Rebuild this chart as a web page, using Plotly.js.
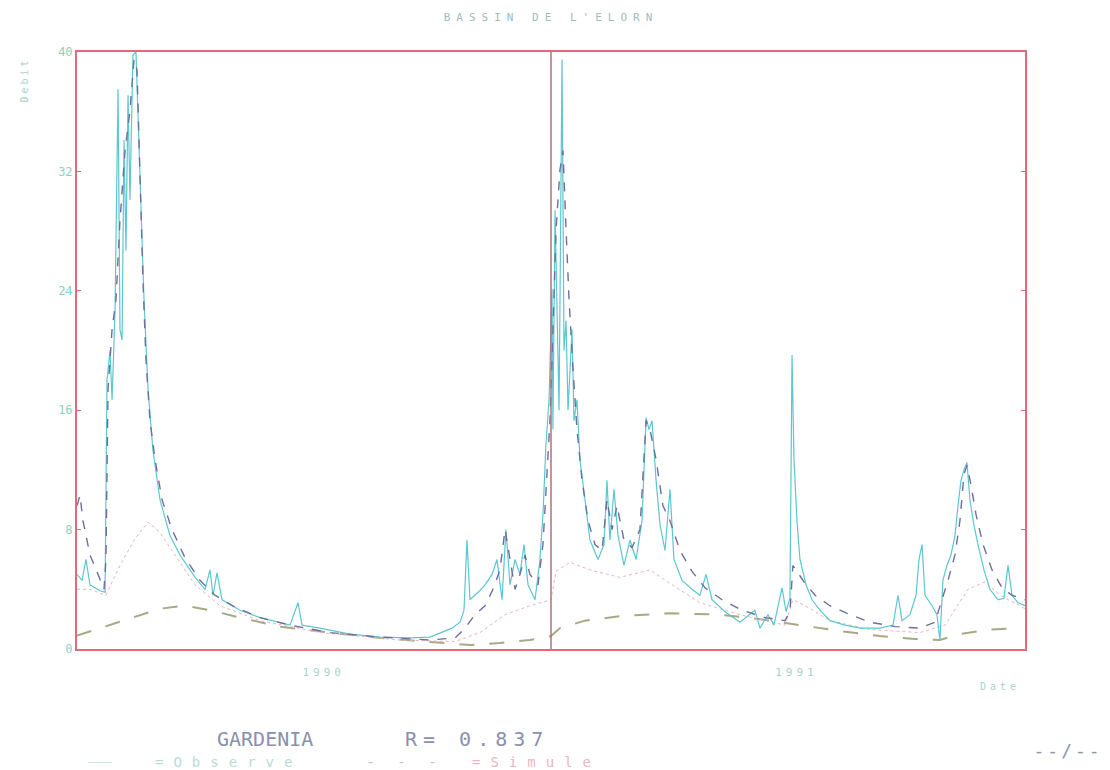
<!DOCTYPE html>
<html>
<head>
<meta charset="utf-8">
<script src="https://cdn.plot.ly/plotly-3.0.1.min.js"></script>
<style>
  html, body { margin: 0; padding: 0; background: #ffffff; overflow: hidden; }
  #chart { width: 1110px; height: 770px; }
</style>
</head>
<body>
<div id="chart"></div>
<script>
// Débits journaliers du bassin de l'Elorn sur deux années hydrologiques.
// Abscisse : jours depuis le début de la période (0 à 730), ordonnée : débit.

// Débit observé
const obsDays = [0, 3.9, 6.9, 10, 17.7, 21.6, 23.1, 25.4, 27, 29.3, 31.6, 33.1, 34.7, 36.2, 37.7, 39.3, 40.8, 43.1, 45.4, 47, 49.3, 51.6, 54.7, 58.5, 63.9, 71.6, 79.3, 90.9, 98.6, 102.4, 104.7, 107.8, 111.7, 125.5, 140.9, 164, 170.2, 173.3, 187.1, 210.2, 233.3, 256.4, 271.8, 279.5, 288.8, 294.9, 298, 300.3, 302.6, 308.8, 314.2, 319.6, 323.4, 327.3, 330.3, 333.4, 337.3, 341.1, 344.2, 347.3, 352.7, 356.5, 358.8, 361.1, 363.5,
  365.8, 366.5, 368.1, 369.6, 371.2, 373.5, 375, 376.6, 378.1, 381.2, 382.7, 385, 387.3, 391.2, 395, 401.2, 405.8, 408.1, 410.4, 413.5, 416.6, 421.2, 425.8, 430.5, 435.1, 438.2, 440.5, 442.8, 445.9, 449, 452.8, 456.6, 459.7, 465.9, 473.6, 479.7, 484.4, 489, 499, 510.5, 522, 525.9, 532.1, 536.7, 539.8, 542.9, 546, 549, 550.6, 552.1, 554.4, 556.7, 561.4, 566, 572.1, 579.8, 591.4, 602.9, 618.3, 628.4, 632.2, 635.3, 641.4, 646.1, 648.4, 650.7, 653, 658.4, 662.2, 664.5, 666.8, 669.9, 673, 676.1, 678.4, 680.7, 683, 685.3, 687.6, 690.7, 693.8, 698.4, 703, 709.2, 713.8, 716.9, 720, 724.6, 730];
const obsFlow = [5.0, 4.6, 6.0, 4.3, 3.9, 3.8, 18.0, 20.0, 16.7, 22.7, 37.5, 21.4, 20.7, 34.1, 26.7, 37.1, 30.1, 39.8, 40, 35.4, 28.7, 23.4, 17.4, 13.3, 10.0, 7.6, 6.3, 4.8, 4.0, 5.3, 3.6, 5.1, 3.3, 2.6, 2.1, 1.6, 3.1, 1.6, 1.4, 1.0, 0.8, 0.74, 0.8, 1.07, 1.4, 1.8, 2.6, 7.3, 3.3, 3.8, 4.3, 5.0, 6.0, 3.3, 8.0, 4.3, 6.0, 5.0, 7.0, 4.3, 3.3, 6.0, 9.0, 13.7, 16.7,
  24.1, 14.7, 29.4, 22.0, 16.0, 39.5, 20.0, 22.0, 16.0, 21.4, 15.3, 16.7, 12.7, 10.0, 7.3, 6.0, 7.0, 11.3, 7.3, 10.7, 7.6, 5.6, 7.3, 6.0, 8.6, 15.5, 14.7, 15.3, 11.3, 8.3, 6.6, 10.7, 6.0, 4.6, 4.0, 3.6, 5.0, 3.3, 2.5, 1.8, 2.6, 1.4, 2.3, 1.6, 2.9, 4.1, 2.5, 3.4, 19.7, 12.7, 8.6, 6.0, 4.3, 3.3, 2.6, 1.9, 1.6, 1.4, 1.4, 1.6, 3.6, 1.9, 2.3, 3.6, 6.0, 7.0, 3.6, 2.9, 2.3, 0.6, 4.6, 5.6, 6.3, 7.6, 9.6, 11.3, 12.0, 12.5, 10.0, 8.3, 7.0, 5.3, 4.0, 3.3, 3.4, 5.6, 3.6, 3.1, 2.9];

// Débit simulé par le modèle
const simDays = [0, 2.3, 4.6, 10, 16.2, 20.8, 22.3, 23.9, 27, 30, 33.1, 37, 40.8, 43.9, 46.2, 48.5, 50.8, 53.1, 56.2, 60.1, 65.5, 73.2, 83.2, 94.7, 106.3, 121.7, 140.9, 164, 194.8, 233.3, 271.8, 291.1, 298.8, 306.5, 314.2, 320.3, 325.7, 329.6, 333.4, 337.3, 341.1, 345, 348.8, 355, 358.8, 361.9, 364.2,
  366.5, 368.9, 371.9, 374.2, 376.6, 378.9, 382, 385, 388.9, 393.5, 398.9, 404.3, 408.1, 412, 415.8, 421.2, 427.4, 433.5, 438.2, 441.2, 445.9, 451.2, 456.6, 464.3, 473.6, 483.6, 496.7, 512.1, 529.8, 545.2, 549, 551.3, 554.4, 559.8, 568.3, 579.8, 595.2, 610.6, 629.9, 649.1, 660.7, 666.1, 670.7, 676.1, 679.9, 683, 685.3, 688.4, 692.3, 697.7, 704.6, 712.3, 720, 730];
const simFlow = [9.6, 10.3, 8.6, 6.3, 5.0, 4.0, 6.0, 17.4, 21.4, 23.4, 28.7, 33.4, 36.1, 39.5, 38.8, 31.4, 24.7, 19.4, 15.3, 12.7, 10.0, 8.0, 6.1, 4.6, 3.6, 2.8, 2.1, 1.6, 1.1, 0.8, 0.6, 0.74, 1.4, 2.3, 2.9, 4.0, 5.3, 8.0, 6.0, 4.0, 5.0, 6.3, 5.0, 4.3, 7.0, 12.0, 15.3,
  21.4, 28.1, 32.1, 33.4, 28.1, 23.4, 18.7, 14.7, 11.3, 8.6, 7.0, 6.6, 10.0, 8.0, 9.6, 7.3, 6.8, 8.0, 15.3, 14.7, 12.7, 9.6, 8.6, 6.6, 5.2, 4.1, 3.3, 2.6, 2.1, 1.9, 2.5, 5.6, 5.2, 4.5, 3.6, 2.9, 2.3, 1.8, 1.5, 1.4, 1.8, 3.3, 4.6, 6.3, 8.6, 11.7, 12.3, 11.0, 9.0, 7.0, 5.3, 4.1, 3.6, 3.3];

// Écoulement rapide simulé
const rapideDays = [0, 10, 22.3, 33.1, 44.7, 54.7, 63.9, 75.5, 90.9, 110.1, 140.9, 187.1, 248.7, 291.1, 310.3, 329.6, 348.8, 365, 368.9, 379.6, 395, 418.1, 441.2, 458.2, 479.7, 510.5, 545.2, 551.3, 560.6, 579.8, 610.6, 649.1, 668.4, 686.1, 699.2, 710.7, 730];
const rapideFlow = [4.0, 4.0, 3.6, 5.6, 7.4, 8.5, 7.8, 6.3, 4.3, 2.9, 1.9, 1.1, 0.6, 0.5, 1.1, 2.3, 2.9, 3.3, 5.2, 5.8, 5.3, 4.8, 5.3, 4.3, 3.1, 2.3, 1.6, 3.3, 2.9, 1.9, 1.3, 1.1, 1.6, 4.0, 4.5, 3.6, 2.7];

// Écoulement de base simulé
const baseDays = [0, 17.7, 40.8, 63.9, 83.2, 102.4, 125.5, 156.3, 194.8, 233.3, 271.8, 302.6, 325.7, 348.8, 365, 371.9, 391.2, 418.1, 456.6, 495.1, 525.9, 556.7, 587.5, 618.3, 645.3, 664.5, 679.9, 703, 726.1];
const baseFlow = [0.9, 1.4, 2.1, 2.7, 2.9, 2.6, 2.1, 1.5, 1.1, 0.74, 0.47, 0.27, 0.4, 0.6, 0.87, 1.4, 1.9, 2.2, 2.4, 2.3, 2.0, 1.6, 1.2, 0.87, 0.67, 0.6, 1.0, 1.3, 1.4];

// Repères de l'axe
const yTicks = [0, 8, 16, 24, 32, 40];
const yearTickDays = [190, 554];
const yearLabels = ['1990', '1991'];
const yearBoundary = 365;

const frameRed = '#e26a78';
const tickTeal = '#8fcfbf';
const mono = 'DejaVu Sans Mono, Liberation Mono, monospace';

const traces = [
  { x: baseDays, y: baseFlow, mode: 'lines', name: 'Base',
    line: { color: '#a9a884', width: 2, dash: 'longdash' } },
  { x: rapideDays, y: rapideFlow, mode: 'lines', name: 'Rapide',
    line: { color: '#eab3bd', width: 1, dash: 'dot' } },
  { x: obsDays, y: obsFlow, mode: 'lines', name: 'Observe',
    line: { color: '#5cc7d0', width: 1.2 } },
  { x: simDays, y: simFlow, mode: 'lines', name: 'Simule',
    line: { color: '#6d6f9c', width: 1.4, dash: 'dash' } }
];

// Conversion pixel -> fraction du cadre pour les textes placés hors du tracé
const plotLeft = 77, plotW = 948, plotTop = 52, plotH = 597;
const fx = px => (px - plotLeft) / plotW;
const fy = px => (plotTop + plotH - px) / plotH;

function note(text, cx, cy, size, color, extra) {
  return Object.assign({
    text: text, xref: 'paper', yref: 'paper', x: fx(cx), y: fy(cy),
    xanchor: 'center', yanchor: 'middle', showarrow: false,
    font: { family: mono, size: size, color: color }
  }, extra || {});
}

const layout = {
  width: 1110, height: 770,
  paper_bgcolor: '#ffffff', plot_bgcolor: '#ffffff',
  margin: { l: plotLeft, r: 1110 - plotLeft - plotW, t: plotTop, b: 770 - plotTop - plotH },
  showlegend: false,
  font: { family: mono, color: tickTeal, size: 11 },
  title: {
    text: 'BASSIN DE L\'ELORN',
    font: { family: mono, size: 11, color: '#9fbcbc' },
    x: 0.5, xref: 'paper', xanchor: 'center',
    y: 0.978, yref: 'container', yanchor: 'middle'
  },
  xaxis: {
    range: [0, 730], showgrid: false, zeroline: false,
    showline: true, linecolor: frameRed, linewidth: 2, mirror: true,
    tickmode: 'array', tickvals: yearTickDays, ticktext: yearLabels,
    ticks: '', tickfont: { family: mono, size: 11, color: '#a6d4cc' },
    ticklabelstandoff: 12
  },
  yaxis: {
    range: [0, 40], showgrid: false, zeroline: false,
    showline: true, linecolor: frameRed, linewidth: 2, mirror: 'ticks',
    tickmode: 'array', tickvals: yTicks,
    ticks: 'inside', ticklen: 4, tickcolor: frameRed, tickwidth: 1,
    tickfont: { family: mono, size: 12, color: tickTeal }
  },
  shapes: [
    { type: 'line', xref: 'x', yref: 'paper', x0: yearBoundary, x1: yearBoundary, y0: 0, y1: 1,
      line: { color: '#b0707a', width: 1.5 } }
  ],
  annotations: [
    note('Debit', 24, 80, 10, '#a6d4cc', { textangle: -90 }),
    note('Date', 1000, 686, 10, '#a6d4cc'),
    note('GARDENIA', 265, 739, 20, '#8a90ad'),
    note('R= 0.837', 477, 739, 20, '#8a90ad'),
    note('———', 100, 762, 13, '#c4e2de'),
    note('=Observe', 228, 762, 14, '#b7dcd8'),
    note('- - -', 405, 762, 14, '#d8b8c2'),
    note('=Simule', 536, 762, 14, '#e7b7bf'),
    note('--/--', 1068, 750, 18, '#8f93a8')
  ]
};

// Espacement des lettres propre au lettrage du traceur
const spacing = {
  "BASSIN DE L'ELORN": '6px',
  '1990': '4px', '1991': '4px',
  'Date': '4px', 'Debit': '3px',
  'R= 0.837': '6px',
  '=Observe': '10px', '=Simule': '10px',
  '- - -': '7px', '--/--': '3px'
};

Plotly.newPlot('chart', traces, layout, { displayModeBar: false, staticPlot: true }).then(gd => {
  gd.querySelectorAll('text').forEach(t => {
    const s = spacing[t.textContent];
    if (s) t.style.letterSpacing = s;
  });
});
</script>
</body>
</html>
